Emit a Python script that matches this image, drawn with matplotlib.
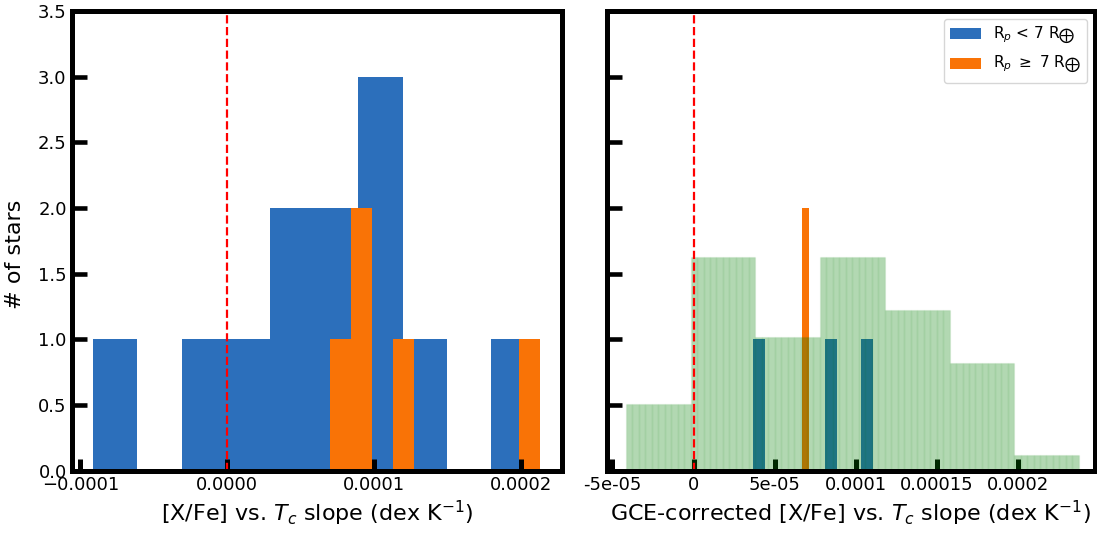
import numpy as np
import matplotlib
matplotlib.use("Agg")
import matplotlib.pyplot as plt

# ---- data ----
# left panel: [X/Fe] vs Tc slope
blue_edges = np.array([-0.914, -0.613, -0.311, -0.010, 0.292, 0.593,
                       0.894, 1.196, 1.497, 1.799, 2.100]) * 1e-4
blue_counts = [1, 0, 1, 1, 2, 2, 3, 1, 0, 1]
orange_edges = np.array([0.698, 0.841, 0.984, 1.127, 1.270, 1.413,
                         1.557, 1.700, 1.843, 1.986, 2.129]) * 1e-4
orange_counts = [1, 2, 0, 1, 0, 0, 0, 0, 0, 1]

# right panel: GCE-corrected slopes
gce_blue_edges = np.array([3.67, 4.41, 5.15, 5.89, 6.63, 7.37,
                           8.11, 8.85, 9.59, 10.33, 11.07]) * 1e-5
gce_blue_counts = [1, 0, 0, 0, 0, 0, 1, 0, 0, 1]
gce_orange_edges = np.array([6.70, 7.13]) * 1e-5
gce_orange_counts = [2]
green_edges = np.array([-4.18, -0.18, 3.80, 7.80, 11.80, 15.80, 19.78, 23.77]) * 1e-5
green_heights = [0.51, 1.63, 1.02, 1.63, 1.22, 0.82, 0.12]

left_xticks = [-0.0001, 0.0, 0.0001, 0.0002]
left_xlabels = ["\u22120.0001", "0.0000", "0.0001", "0.0002"]
right_xticks = [-5e-05, 0.0, 5e-05, 0.0001, 0.00015, 0.0002]
right_xlabels = ["-5e-05", "0", "5e-05", "0.0001", "0.00015", "0.0002"]
yticks = [0.0, 0.5, 1.0, 1.5, 2.0, 2.5, 3.0, 3.5]

blue = "xkcd:medium blue"
orange = "xkcd:orange"


def edge_bars(ax, edges, heights, color, **kw):
    edges = np.asarray(edges)
    ax.bar(edges[:-1], heights, width=np.diff(edges), align="edge",
           color=color, linewidth=0, **kw)


def style_axis(ax):
    for sp in ax.spines.values():
        sp.set_linewidth(3.6)
        sp.set_zorder(5)
    ax.tick_params(axis="y", direction="in", length=10.7, width=3.3, labelsize=13)
    ax.tick_params(axis="x", direction="in", length=8.5, width=3.6, labelsize=13)
    ax.set_ylim(0, 3.5)
    ax.set_yticks(yticks)


fig = plt.figure(figsize=(10.97, 5.33), dpi=100)
ax1 = fig.add_axes([0.0652, 0.1169, 0.4471, 0.8625])
ax2 = fig.add_axes([0.5533, 0.1169, 0.4449, 0.8625], sharey=ax1)

# left
edge_bars(ax1, blue_edges, blue_counts, blue)
edge_bars(ax1, orange_edges, orange_counts, orange)
ax1.axvline(0, color="red", linestyle="--", linewidth=1.6, zorder=4)
style_axis(ax1)
ax1.set_xticks(left_xticks)
ax1.set_xticklabels(left_xlabels)
ax1.set_xlim(-1.061e-4, 2.281e-4)
ax1.set_xlabel(r"[X/Fe] vs. $T_c$ slope (dex K$^{-1}$)", fontsize=16)
ax1.set_ylabel("# of stars", fontsize=16)
ax1.yaxis.set_label_coords(-0.095, 0.47)

# right
edge_bars(ax2, gce_blue_edges, gce_blue_counts, blue,
          label=r"R$_p$ < 7 R$_{\bigoplus}$")
edge_bars(ax2, gce_orange_edges, gce_orange_counts, orange,
          label=r"R$_p$ $\geq$ 7 R$_{\bigoplus}$")
# green comparison histogram, drawn as thin strips like the original
for i in range(len(green_heights)):
    sub = np.linspace(green_edges[i], green_edges[i + 1], 11)
    ax2.bar(sub[:-1], green_heights[i], width=np.diff(sub), align="edge",
            facecolor=(0, 0.5, 0, 0.3), edgecolor=(0, 0.5, 0, 0.05),
            linewidth=1.0, zorder=3)
ax2.axvline(0, color="red", linestyle="--", linewidth=1.6, zorder=4)
style_axis(ax2)
ax2.tick_params(axis="y", labelleft=False)
ax2.set_xticks(right_xticks)
ax2.set_xticklabels(right_xlabels)
ax2.set_xlim(-5.34e-5, 2.477e-4)
ax2.set_xlabel(r"GCE-corrected [X/Fe] vs. $T_c$ slope (dex K$^{-1}$)", fontsize=16)
ax2.legend(loc="upper right", fontsize=11)

fig.savefig("out.png", dpi=100)
